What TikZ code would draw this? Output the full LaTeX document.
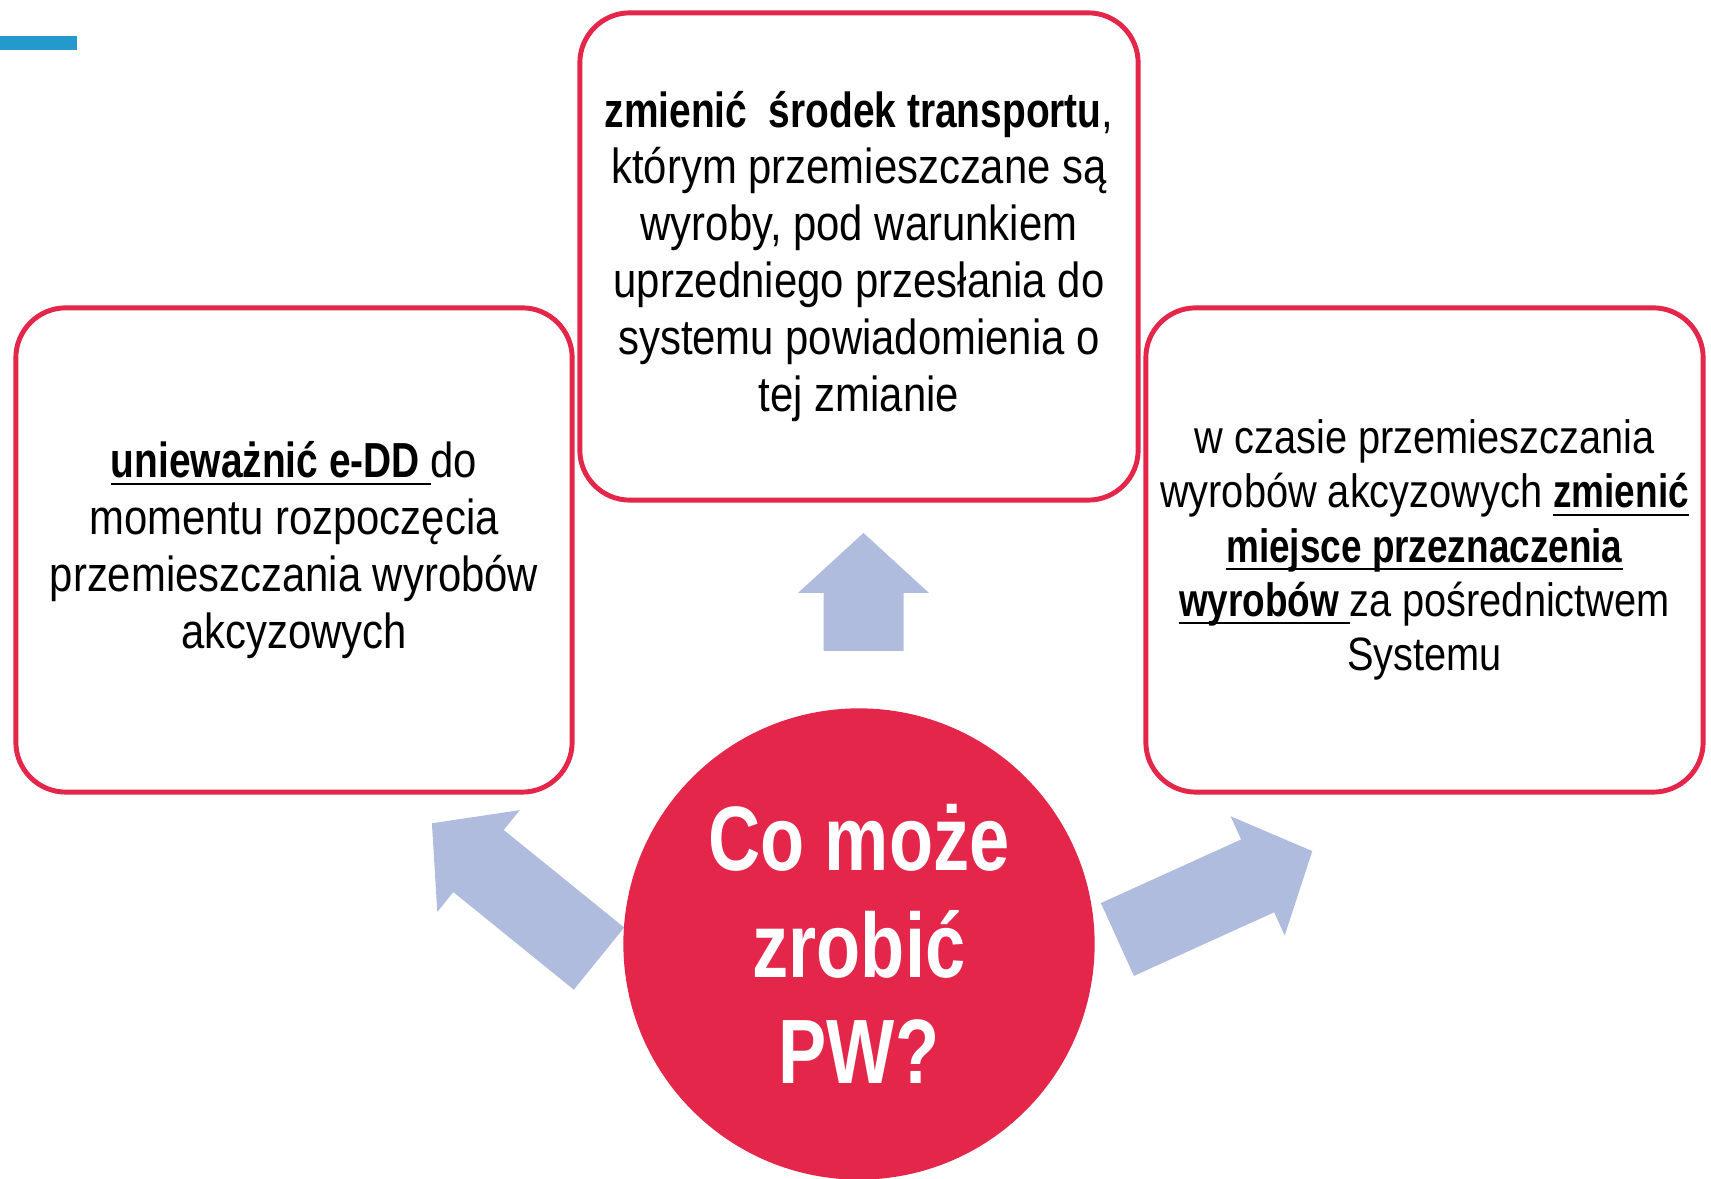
\documentclass[tikz,border=0pt]{standalone}
\usepackage{fontspec}
\setmainfont{Liberation Sans}[FakeStretch=0.85, BoldFeatures={FakeStretch=0.79}]
\usepackage{xcolor}
\usetikzlibrary{positioning}

\definecolor{pwred}{HTML}{E4264A}
\definecolor{arrowblue}{HTML}{AFBCDD}
\definecolor{barblue}{HTML}{2399CC}

% underline at a fixed depth, crossing descenders
\newcommand{\undl}[1]{\setbox0\hbox{#1}\rlap{\rule[-2.2pt]{\wd0}{0.5pt}}\box0}

\tikzset{
  optbox/.style={draw=pwred, line width=1.4pt, rounded corners=0.5cm, fill=white,
    align=center, inner sep=0pt, font=\fontsize{14}{16.2}\selectfont},
  blockarrow/.style={fill=arrowblue},
}

% block arrow: tail point, angle, length (shaft 80, head 131 wide, 60 long)
\newcommand{\blockarrow}[3]{%
  \fill[blockarrow, shift={#1}, rotate=#2]
    (0,-40) -- (#3-60,-40) -- (#3-60,-65.5) -- (#3,0)
    -- (#3-60,65.5) -- (#3-60,40) -- (0,40) -- cycle;}

\begin{document}
\begin{tikzpicture}[x=0.01cm, y=0.01cm]
      \useasboundingbox (0,0) rectangle (1711,1179);

      % --- blue tab at top left ---
      \fill[barblue] (0,1128.5) rectangle (77,1143);

      % --- three option boxes ---
      \node[optbox, minimum width=5.58cm, minimum height=4.87cm] (srodek) at (859,922.5)
        {\textbf{zmienić\ \ środek transportu},\\ którym przemieszczane są\\ wyroby, pod warunkiem\\
         uprzedniego przesłania do\\ systemu powiadomienia o\\ tej zmianie};
      \node[optbox, minimum width=5.56cm, minimum height=4.84cm] (uniewaznic) at (294,629)
        {\undl{\textbf{unieważnić e-DD }}do\\ momentu rozpoczęcia\\ przemieszczania wyrobów\\ akcyzowych};
      \node[optbox, minimum width=5.57cm, minimum height=4.84cm,
            font=\fontsize{13.3}{15.4}\selectfont] (miejsce) at (1424.5,629)
        {w czasie przemieszczania\\ wyrobów akcyzowych \undl{\textbf{zmienić}}\\
         \undl{\textbf{miejsce przeznaczenia}}\\ \undl{\textbf{wyrobów }}za pośrednictwem\\ Systemu};

      % --- arrows out of the centre (drawn first, circle on top) ---
      \blockarrow{(863.5,528)}{90}{118}
      \blockarrow{(599,220.4)}{141}{215}
      \blockarrow{(1117.4,239.5)}{24.4}{214}

      % --- centre circle ---
      \node[circle, fill=pwred, minimum size=4.71cm, inner sep=0pt, text=white, align=center,
            font=\bfseries\fontsize{26}{30.2}\selectfont] (pw) at (859,235)
        {Co może\\ zrobić\\ PW?};
    \end{tikzpicture}
\end{document}
